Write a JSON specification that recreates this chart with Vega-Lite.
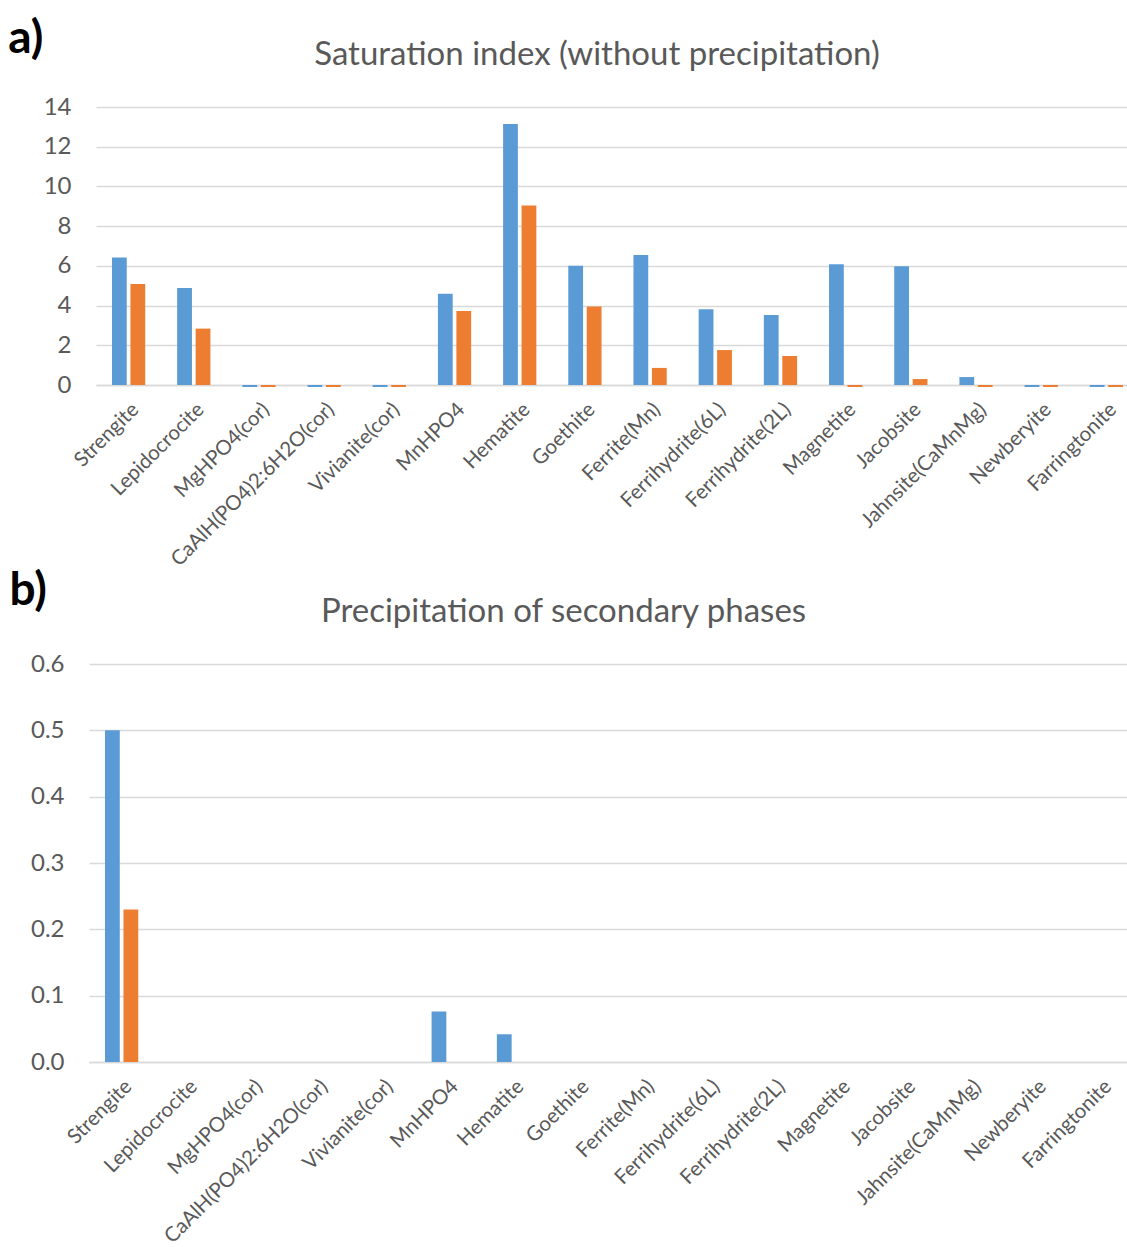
{
  "$schema": "https://vega.github.io/schema/vega-lite/v6.json",
  "padding": {"left": 8, "top": 16, "right": 0, "bottom": 0},
  "background": "white",
  "datasets": {
    "si": [
      {"mineral": "Strengite", "series": "S1", "value": 6.42},
      {"mineral": "Strengite", "series": "S2", "value": 5.09},
      {"mineral": "Lepidocrocite", "series": "S1", "value": 4.89},
      {"mineral": "Lepidocrocite", "series": "S2", "value": 2.84},
      {"mineral": "MgHPO4(cor)", "series": "S1", "value": -0.1},
      {"mineral": "MgHPO4(cor)", "series": "S2", "value": -0.1},
      {"mineral": "CaAlH(PO4)2:6H2O(cor)", "series": "S1", "value": -0.1},
      {"mineral": "CaAlH(PO4)2:6H2O(cor)", "series": "S2", "value": -0.1},
      {"mineral": "Vivianite(cor)", "series": "S1", "value": -0.1},
      {"mineral": "Vivianite(cor)", "series": "S2", "value": -0.1},
      {"mineral": "MnHPO4", "series": "S1", "value": 4.59},
      {"mineral": "MnHPO4", "series": "S2", "value": 3.73},
      {"mineral": "Hematite", "series": "S1", "value": 13.15},
      {"mineral": "Hematite", "series": "S2", "value": 9.04},
      {"mineral": "Goethite", "series": "S1", "value": 6.01},
      {"mineral": "Goethite", "series": "S2", "value": 3.95},
      {"mineral": "Ferrite(Mn)", "series": "S1", "value": 6.55},
      {"mineral": "Ferrite(Mn)", "series": "S2", "value": 0.86},
      {"mineral": "Ferrihydrite(6L)", "series": "S1", "value": 3.81},
      {"mineral": "Ferrihydrite(6L)", "series": "S2", "value": 1.76},
      {"mineral": "Ferrihydrite(2L)", "series": "S1", "value": 3.53},
      {"mineral": "Ferrihydrite(2L)", "series": "S2", "value": 1.46},
      {"mineral": "Magnetite", "series": "S1", "value": 6.08},
      {"mineral": "Magnetite", "series": "S2", "value": -0.1},
      {"mineral": "Jacobsite", "series": "S1", "value": 5.98},
      {"mineral": "Jacobsite", "series": "S2", "value": 0.3},
      {"mineral": "Jahnsite(CaMnMg)", "series": "S1", "value": 0.4},
      {"mineral": "Jahnsite(CaMnMg)", "series": "S2", "value": -0.1},
      {"mineral": "Newberyite", "series": "S1", "value": -0.1},
      {"mineral": "Newberyite", "series": "S2", "value": -0.1},
      {"mineral": "Farringtonite", "series": "S1", "value": -0.1},
      {"mineral": "Farringtonite", "series": "S2", "value": -0.1}
    ],
    "prec": [
      {"mineral": "Strengite", "series": "S1", "value": 0.5},
      {"mineral": "Strengite", "series": "S2", "value": 0.23},
      {"mineral": "Lepidocrocite", "series": "S1", "value": 0},
      {"mineral": "Lepidocrocite", "series": "S2", "value": 0},
      {"mineral": "MgHPO4(cor)", "series": "S1", "value": 0},
      {"mineral": "MgHPO4(cor)", "series": "S2", "value": 0},
      {"mineral": "CaAlH(PO4)2:6H2O(cor)", "series": "S1", "value": 0},
      {"mineral": "CaAlH(PO4)2:6H2O(cor)", "series": "S2", "value": 0},
      {"mineral": "Vivianite(cor)", "series": "S1", "value": 0},
      {"mineral": "Vivianite(cor)", "series": "S2", "value": 0},
      {"mineral": "MnHPO4", "series": "S1", "value": 0.076},
      {"mineral": "MnHPO4", "series": "S2", "value": 0},
      {"mineral": "Hematite", "series": "S1", "value": 0.042},
      {"mineral": "Hematite", "series": "S2", "value": 0},
      {"mineral": "Goethite", "series": "S1", "value": 0},
      {"mineral": "Goethite", "series": "S2", "value": 0},
      {"mineral": "Ferrite(Mn)", "series": "S1", "value": 0},
      {"mineral": "Ferrite(Mn)", "series": "S2", "value": 0},
      {"mineral": "Ferrihydrite(6L)", "series": "S1", "value": 0},
      {"mineral": "Ferrihydrite(6L)", "series": "S2", "value": 0},
      {"mineral": "Ferrihydrite(2L)", "series": "S1", "value": 0},
      {"mineral": "Ferrihydrite(2L)", "series": "S2", "value": 0},
      {"mineral": "Magnetite", "series": "S1", "value": 0},
      {"mineral": "Magnetite", "series": "S2", "value": 0},
      {"mineral": "Jacobsite", "series": "S1", "value": 0},
      {"mineral": "Jacobsite", "series": "S2", "value": 0},
      {"mineral": "Jahnsite(CaMnMg)", "series": "S1", "value": 0},
      {"mineral": "Jahnsite(CaMnMg)", "series": "S2", "value": 0},
      {"mineral": "Newberyite", "series": "S1", "value": 0},
      {"mineral": "Newberyite", "series": "S2", "value": 0},
      {"mineral": "Farringtonite", "series": "S1", "value": 0},
      {"mineral": "Farringtonite", "series": "S2", "value": 0}
    ]
  },
  "config": {
    "font": "Lato",
    "view": {"stroke": null},
    "title": {"color": "#595959", "font": "Lato", "fontWeight": "normal"},
    "axis": {"labelFont": "Lato", "labelColor": "#595959", "gridColor": "#d9d9d9", "gridWidth": 1.5, "domainColor": "#d9d9d9", "domainWidth": 1.5, "labelLimit": 0}
  },
  "align": "none",
  "bounds": "full",
  "spacing": -2,
  "columns": 1,
  "concat": [
    {
      "title": {"text": "a)", "anchor": "start", "frame": "bounds", "fontSize": 46, "fontWeight": "bold", "color": "black", "dx": -35, "offset": -24},
      "vconcat": [
        {
          "width": 1050,
          "height": 278,
          "title": {"text": "Saturation index (without precipitation)", "fontSize": 33, "dx": -17, "offset": 23},
          "data": {"name": "si"},
          "mark": {"type": "bar"},
          "encoding": {
            "x": {"field": "mineral", "type": "nominal", "sort": null, "title": null,
                  "scale": {"range": [7, 1050], "paddingInner": 0.49, "paddingOuter": 0.245},
                  "axis": {"labelAngle": -45, "labelFontSize": 20.5, "ticks": false, "labelPadding": 14, "domain": true}},
            "xOffset": {"field": "series", "type": "nominal", "scale": {"paddingInner": 0.2}},
            "y": {"field": "value", "type": "quantitative", "title": null,
                  "scale": {"domain": [0, 14], "nice": false},
                  "axis": {"values": [0, 2, 4, 6, 8, 10, 12, 14], "labelFontSize": 24, "ticks": false, "domain": false, "labelPadding": 18}},
            "color": {"field": "series", "type": "nominal", "legend": null,
                      "scale": {"domain": ["S1", "S2"], "range": ["#5b9bd5", "#ed7d31"]}}
          }
        }
      ]
    },
    {
      "title": {"text": "b)", "anchor": "start", "frame": "bounds", "fontSize": 46, "fontWeight": "bold", "color": "black", "dx": -21, "offset": -19},
      "vconcat": [
        {
          "width": 1045,
          "height": 398,
          "title": {"text": "Precipitation of secondary phases", "fontSize": 33, "dx": -48, "offset": 23},
          "data": {"name": "prec"},
          "mark": {"type": "bar"},
          "encoding": {
            "x": {"field": "mineral", "type": "nominal", "sort": null, "title": null,
                  "scale": {"paddingInner": 0.49, "paddingOuter": 0.245},
                  "axis": {"labelAngle": -45, "labelFontSize": 20.5, "ticks": false, "labelPadding": 14, "domain": true}},
            "xOffset": {"field": "series", "type": "nominal", "scale": {"paddingInner": 0.2}},
            "y": {"field": "value", "type": "quantitative", "title": null,
                  "scale": {"domain": [0, 0.6], "nice": false},
                  "axis": {"values": [0, 0.1, 0.2, 0.3, 0.4, 0.5, 0.6], "format": ".1f", "labelFontSize": 24, "ticks": false, "domain": false, "labelPadding": 25}},
            "color": {"field": "series", "type": "nominal", "legend": null,
                      "scale": {"domain": ["S1", "S2"], "range": ["#5b9bd5", "#ed7d31"]}}
          }
        }
      ]
    }
  ]
}
